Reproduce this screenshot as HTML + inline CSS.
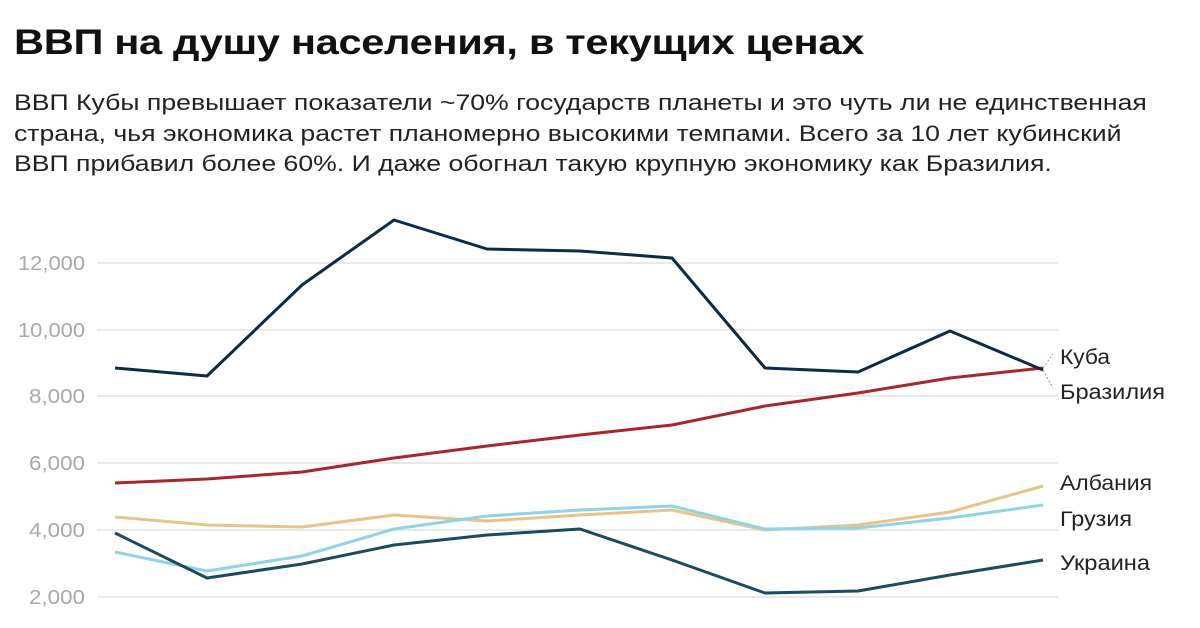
<!DOCTYPE html>
<html><head><meta charset="utf-8"><style>
body{margin:0;background:#fff;width:1200px;height:628px;overflow:hidden;font-family:"Liberation Sans",sans-serif}
h1{position:absolute;left:14px;top:23px;margin:0;font-size:35px;font-weight:bold;color:#111;letter-spacing:-0.3px;transform:scaleX(1.19);transform-origin:0 0;white-space:nowrap}
p{position:absolute;left:14px;top:88px;margin:0;font-size:22px;line-height:30.5px;color:#222;white-space:nowrap;transform:scaleX(1.21);transform-origin:0 0}
</style></head><body>
<h1>ВВП на душу населения, в текущих ценах</h1>
<p>ВВП Кубы превышает показатели ~70% государств планеты и это чуть ли не единственная<br>страна, чья экономика растет планомерно высокими темпами. Всего за 10 лет кубинский<br>ВВП прибавил более 60%. И даже обогнал такую крупную экономику как Бразилия.</p>
<svg width="1200" height="628" style="position:absolute;left:0;top:0" font-family="Liberation Sans, sans-serif">
<g stroke="#e2e2e2" stroke-width="1.5">
<line x1="97" x2="1058" y1="263" y2="263"/><line x1="97" x2="1058" y1="330" y2="330"/><line x1="97" x2="1058" y1="396" y2="396"/><line x1="97" x2="1058" y1="463" y2="463"/><line x1="97" x2="1058" y1="530" y2="530"/><line x1="97" x2="1058" y1="597" y2="597"/>
</g>
<g fill="#a8a8a8" font-size="20" text-anchor="end">
<text x="85" y="270" textLength="67" lengthAdjust="spacingAndGlyphs">12,000</text><text x="85" y="337" textLength="67" lengthAdjust="spacingAndGlyphs">10,000</text><text x="85" y="403" textLength="56" lengthAdjust="spacingAndGlyphs">8,000</text><text x="85" y="470" textLength="56" lengthAdjust="spacingAndGlyphs">6,000</text><text x="85" y="537" textLength="56" lengthAdjust="spacingAndGlyphs">4,000</text><text x="85" y="604" textLength="56" lengthAdjust="spacingAndGlyphs">2,000</text>
</g>
<g fill="none" stroke-width="3" stroke-linejoin="round">
<polyline stroke="#e8c48a" points="115,517 207,525 302,527 394,515 487,521 580,515 672,510 765,530 858,525 950,512 1043,486"/>
<polyline stroke="#8fd3e6" points="115,552 207,571 302,556 394,529 487,516 580,510 672,506 765,529 858,528 950,518 1043,505"/>
<polyline stroke="#1c4a5e" points="115,533 207,578 302,564 394,545 487,535 580,529 672,560 765,593 858,591 950,575 1043,560"/>
<polyline stroke="#a8272d" points="115,483 207,479 302,472 394,458 487,446 580,435 672,425 765,406 858,393 950,378 1043,368"/>
<polyline stroke="#0f2a44" points="115,368 207,376 302,285 394,220 487,249 580,251 672,258 765,368 858,372 950,331 1043,370"/>
</g>
<g stroke="#999" stroke-width="1" stroke-dasharray="2,2" fill="none">
<line x1="1043" y1="368" x2="1053" y2="354"/><line x1="1043" y1="370" x2="1053" y2="388"/>
</g>
<g fill="#222" font-size="21">
<text x="1060" y="364" textLength="50" lengthAdjust="spacingAndGlyphs">Куба</text><text x="1060" y="399" textLength="105" lengthAdjust="spacingAndGlyphs">Бразилия</text><text x="1060" y="490" textLength="92" lengthAdjust="spacingAndGlyphs">Албания</text><text x="1060" y="526" textLength="72" lengthAdjust="spacingAndGlyphs">Грузия</text><text x="1060" y="570" textLength="90" lengthAdjust="spacingAndGlyphs">Украина</text>
</g>
</svg>
</body></html>
